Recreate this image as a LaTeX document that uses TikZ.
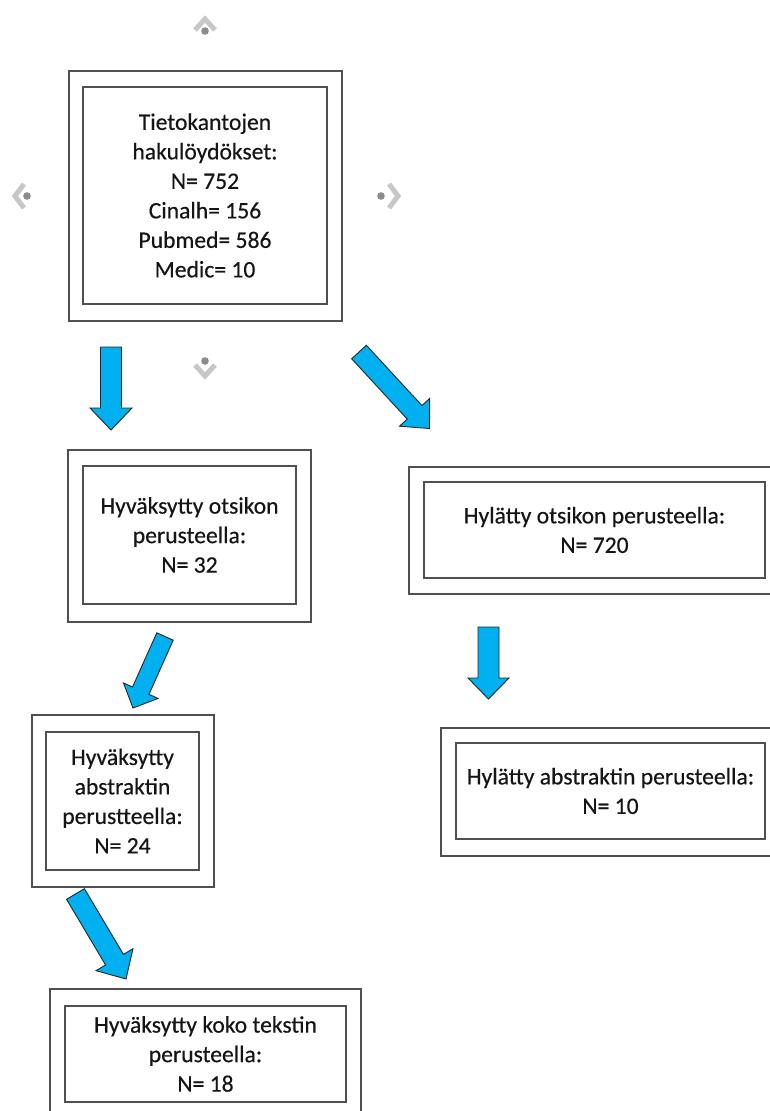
\documentclass[tikz,border=0pt]{standalone}
\usepackage{fontspec}
\setmainfont{Carlito}[FakeBold=0.35]
\usetikzlibrary{calc}
\definecolor{arrowblue}{HTML}{00B0F0}
\definecolor{txt}{HTML}{151515}
\definecolor{boxline}{HTML}{505050}
\tikzset{
  outerbox/.style={draw=boxline, line width=1.4pt, rectangle, inner sep=0pt},
  innerbox/.style={draw=boxline, line width=1.4pt, rectangle, inner sep=0pt, align=center,
    text=txt, font=\fontsize{23.6}{29.5}\selectfont},
  blockarrowstyle/.style={fill=arrowblue, draw=black!85, line width=0.9pt, line join=miter},
  handle/.style={draw=black!22, line width=5pt, line join=miter},
  handledot/.style={fill=black!45, draw=none}
}
\newcommand\blockarr[5]{%
  \coordinate (hb) at ($(#2)!#5pt!(#1)$);
  \draw[blockarrowstyle] ($(#1)!#3pt!90:(#2)$) -- ($(hb)!#3pt!90:(#2)$) -- ($(hb)!#4pt!90:(#2)$)
    -- (#2) -- ($(hb)!#4pt!-90:(#2)$) -- ($(hb)!#3pt!-90:(#2)$) -- ($(#1)!#3pt!-90:(#2)$) -- cycle;
}
\begin{document}
\begin{tikzpicture}[x=1pt,y=-1pt]
\useasboundingbox (0,0) rectangle (770,1111);
\clip (0,0) rectangle (770,1111);
\fill[white] (0,0) rectangle (770,1111);

% handles
\draw[handle] (195,30) -- (205,19) -- (215,30);
\fill[handledot] (205,31) circle (3.8);
\draw[handle] (24,184) -- (15,196) -- (24,208);
\fill[handledot] (27,196) circle (3.8);
\draw[handle] (389,184) -- (398,196) -- (389,208);
\fill[handledot] (381,196) circle (3.8);
\draw[handle] (195,365) -- (205,376) -- (215,365);
\fill[handledot] (205,361) circle (3.8);

% box 1
\node[outerbox, minimum width=273pt, minimum height=250pt] (o1) at (205.5,196) {};
\node[innerbox, minimum width=244pt, minimum height=217pt] (i1) at (205,195.5)
  {Tietokantojen\\hakulöydökset:\\N= 752\\Cinalh= 156\\Pubmed= 586\\Medic= 10};

% box 2
\node[outerbox, minimum width=243pt, minimum height=172pt] (o2) at (189.5,536) {};
\node[innerbox, minimum width=213pt, minimum height=138pt] (i2) at (189.5,535)
  {Hyväksytty otsikon\\perusteella:\\N= 32};

% box 3
\node[outerbox, minimum width=182pt, minimum height=172pt] (o3) at (123,801) {};
\node[innerbox, minimum width=153pt, minimum height=138pt] (i3) at (122.5,801)
  {Hyväksytty\\abstraktin\\perustteella:\\N= 24};

% box 4
\node[outerbox, minimum width=381pt, minimum height=127pt] (o4) at (599.5,530.5) {};
\node[innerbox, minimum width=341pt, minimum height=96pt] (i4) at (594.5,530)
  {Hylätty otsikon perusteella:\\N= 720};

% box 5
\node[outerbox, minimum width=349pt, minimum height=128pt] (o5) at (615.5,792) {};
\node[innerbox, minimum width=309pt, minimum height=96pt] (i5) at (610.5,791)
  {Hylätty abstraktin perusteella:\\N= 10};

% box 6
\node[outerbox, minimum width=311pt, minimum height=141pt] (o6) at (205.5,1059.5) {};
\node[innerbox, minimum width=281pt, minimum height=96pt] (i6) at (205.5,1054)
  {Hyväksytty koko tekstin\\perusteella:\\N= 18};

% arrows
\coordinate (t1) at (111,347);   \coordinate (p1) at (111,430);
\coordinate (t2) at (359,352);   \coordinate (p2) at (429.5,428.5);
\coordinate (t3) at (165,636.5); \coordinate (p3) at (133,708);
\coordinate (t4) at (75.5,894);  \coordinate (p4) at (126,979);
\coordinate (t5) at (488.5,627); \coordinate (p5) at (488.5,699);
\blockarr{t1}{p1}{10.5}{21}{22}
\blockarr{t2}{p2}{10}{20.5}{22}
\blockarr{t3}{p3}{9}{19}{19}
\blockarr{t4}{p4}{10.4}{21.5}{22.5}
\blockarr{t5}{p5}{10.5}{20.5}{21}
\end{tikzpicture}
\end{document}
